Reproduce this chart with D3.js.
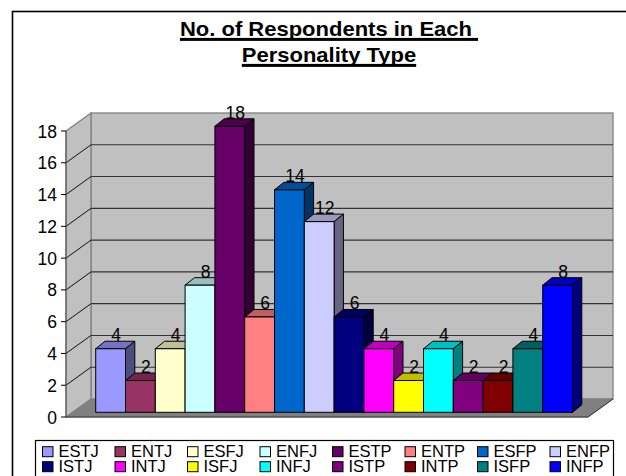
<!DOCTYPE html>
<html>
<head>
<meta charset="utf-8">
<script src="https://cdnjs.cloudflare.com/ajax/libs/d3/7.8.5/d3.min.js"></script>
<style>
  html, body { margin: 0; padding: 0; background: #fff; overflow: hidden; }
  svg { display: block; }
  text { font-family: "Liberation Sans", Arial, sans-serif; fill: #000; }
</style>
</head>
<body>
<svg id="chart" width="626" height="476"></svg>
<script>
// Personality types, in plotting order
const categories = ["ESTJ","ENTJ","ESFJ","ENFJ","ESTP","ENTP","ESFP","ENFP",
                    "ISTJ","INTJ","ISFJ","INFJ","ISTP","INTP","ISFP","INFP"];
const values = [4,2,4,8,18,6,14,12,6,4,2,4,2,2,4,8];
const colors = ["#9999FF","#993366","#FFFFCC","#CCFFFF","#660066","#FF8080","#0066CC","#CCCCFF",
                "#000080","#FF00FF","#FFFF00","#00FFFF","#800080","#800000","#008080","#0000FF"];
const yTicks = [0,2,4,6,8,10,12,14,16,18];
const titleLines = ["No. of Respondents in Each\u00a0","Personality Type"];

const svg = d3.select("#chart");
const pts = a => a.map(p => p.join(",")).join(" ");

// Frame of the chart area; its right and bottom edges run past the page
svg.append("rect").attr("x",12.5).attr("y",11.5).attr("width",700).attr("height",500)
   .attr("fill","#fff").attr("stroke","#000").attr("stroke-width",1.6);

// Title: slightly widened bold type with heavy underlines
const titleStretch = 1.1;
titleLines.forEach((t,i) => {
  const baseline = 35.7 + i*26;
  const g = svg.append("g").attr("transform",`translate(329,${baseline})`);
  const label = g.append("text").attr("text-anchor","middle").attr("font-size",20)
     .attr("font-weight","bold").attr("transform",`scale(${titleStretch},1)`).text(t);
  const w = label.node().getComputedTextLength()*titleStretch;
  g.append("rect").attr("x",-w/2).attr("y",2.2).attr("width",w).attr("height",3).attr("fill","#000");
});

// Scales for the front plane; the walls are offset by the box depth
const y = d3.scaleLinear().domain([0,18]).range([417,131]);
const depth = {x:25, y:-18};
const left = 66, right = 588;

const x = d3.scaleBand().domain(categories).range([95.7,572.5]).paddingInner(0).paddingOuter(0);
const barBase = 4.7;                     // bars stand slightly behind the front edge of the floor
const barDepth = {x:9.3, y:-7.5};
const yBar = v => y(v) - barBase;

// Back wall
svg.append("rect").attr("x",left+depth.x).attr("y",y(18)+depth.y)
   .attr("width",right-left).attr("height",y(0)-y(18))
   .attr("fill","#C0C0C0").attr("stroke","#808080").attr("stroke-width",1.3);
// Side wall
svg.append("polygon")
   .attr("points",pts([[left,y(18)],[left+depth.x,y(18)+depth.y],[left+depth.x,y(0)+depth.y],[left,y(0)]]))
   .attr("fill","#C0C0C0").attr("stroke","#808080").attr("stroke-width",1.3);
// Floor
svg.append("polygon")
   .attr("points",pts([[left,y(0)],[left+depth.x,y(0)+depth.y],[right+depth.x,y(0)+depth.y],[right,y(0)]]))
   .attr("fill","#808080").attr("stroke","#808080");
svg.append("polyline")
   .attr("points",pts([[left,y(0)],[right,y(0)],[right+depth.x,y(0)+depth.y]]))
   .attr("fill","none").attr("stroke","#333");

// Gridlines on both walls
const gridTicks = yTicks.filter(v => v>0 && v<18);
svg.append("g").selectAll("line").data(gridTicks).join("line")
   .attr("x1",left+depth.x).attr("x2",right+depth.x)
   .attr("y1",d=>y(d)+depth.y).attr("y2",d=>y(d)+depth.y)
   .attr("stroke","#333").attr("stroke-width",1.1);
svg.append("g").selectAll("line").data(gridTicks).join("line")
   .attr("x1",left).attr("x2",left+depth.x)
   .attr("y1",d=>y(d)).attr("y2",d=>y(d)+depth.y)
   .attr("stroke","#111").attr("stroke-width",1);

// Value axis
svg.append("line").attr("x1",left).attr("x2",left).attr("y1",y(0)).attr("y2",y(18))
   .attr("stroke","#555");
svg.append("g").selectAll("line").data(yTicks).join("line")
   .attr("x1",left-5).attr("x2",left).attr("y1",d=>y(d)).attr("y2",d=>y(d))
   .attr("stroke","#000");
svg.append("g").selectAll("text").data(yTicks).join("text")
   .attr("x",left-9).attr("y",d=>y(d)+6.5).attr("text-anchor","end")
   .attr("font-size",17.5).text(d=>d);

// 3D columns, painted left to right so each one covers its neighbour's side
const scaleColor = (c,k) => { const r=d3.rgb(c); return d3.rgb(r.r*k,r.g*k,r.b*k).formatHex(); };
const bars = svg.append("g").selectAll("g").data(categories).join("g");
bars.each(function(cat,i){
  const g = d3.select(this);
  const x0 = x(cat), x1 = x0 + x.bandwidth();
  const top = yBar(values[i]), base = yBar(0);
  const dx = barDepth.x, dy = barDepth.y;
  g.append("polygon").attr("points",pts([[x0,top],[x0+dx,top+dy],[x1+dx,top+dy],[x1,top]]))
   .attr("fill",scaleColor(colors[i],0.75)).attr("stroke","#000");
  g.append("polygon").attr("points",pts([[x1,top],[x1+dx,top+dy],[x1+dx,base+dy],[x1,base]]))
   .attr("fill",scaleColor(colors[i],0.5)).attr("stroke","#000");
  g.append("rect").attr("x",x0).attr("y",top).attr("width",x.bandwidth()).attr("height",base-top)
   .attr("fill",colors[i]).attr("stroke","#000");
});

// Value labels sit over every column
svg.append("g").selectAll("text").data(categories).join("text")
   .attr("x",c=>x(c)+x.bandwidth()/2+5.5).attr("y",(c,i)=>yBar(values[i])-7.5)
   .attr("text-anchor","middle").attr("font-size",17.5).text((c,i)=>values[i]);

// Legend: two rows of eight, in a box that runs off the bottom of the page
const legend = svg.append("g");
legend.append("rect").attr("x",35.5).attr("y",440.5).attr("width",578).attr("height",45)
   .attr("fill","#fff").attr("stroke","#000").attr("stroke-width",1.2);
const legendX = d3.scalePoint().domain(d3.range(8)).range([42.5,550]);
const legendY = [451.7,466.7];
const items = legend.selectAll("g").data(categories).join("g")
   .attr("transform",(c,i)=>`translate(${legendX(i%8)},${legendY[Math.floor(i/8)]})`);
items.append("rect").attr("x",0).attr("y",-5).attr("width",10.5).attr("height",10)
   .attr("fill",(c,i)=>colors[i]).attr("stroke","#000");
items.append("text").attr("x",16).attr("y",5).attr("font-size",16.5).text(c=>c);
</script>
</body>
</html>
